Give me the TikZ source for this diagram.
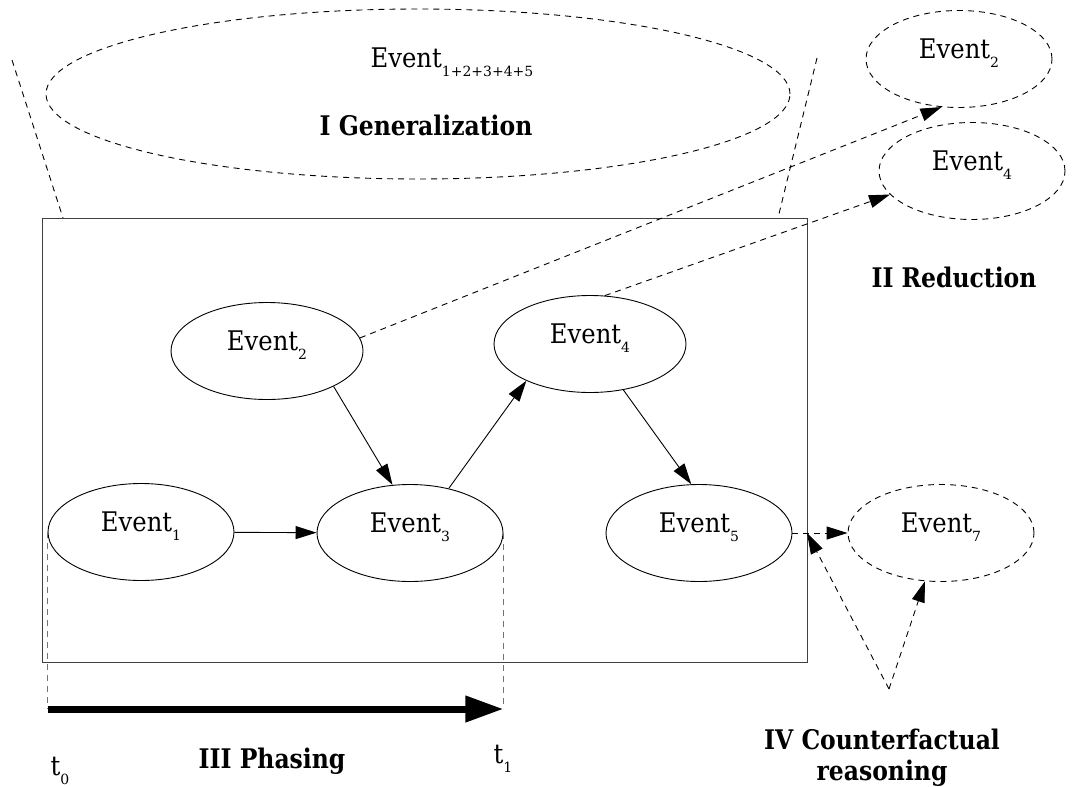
\documentclass[tikz,border=0pt]{standalone}
\usepackage{fontspec}
\setmainfont{DejaVu Serif}[FakeStretch=0.9]
\newfontfamily\idxfont{DejaVu Serif}
\newfontfamily\lblfont{DejaVu Serif}[FakeStretch=0.87]
\usetikzlibrary{shapes.geometric,arrows.meta}
% lowered, smaller index after a word
\newcommand\lowidx[1]{\raisebox{-9pt}{\idxfont\fontsize{14}{14}\selectfont #1}}
\begin{document}
\begin{tikzpicture}[x=1pt,y=-1pt,
  txt/.style={font=\fontsize{27}{31}\selectfont},
  evt/.style={ellipse, draw, line width=0.9pt, minimum width=186pt, minimum height=97pt,
    inner sep=0pt, text height=10pt, text depth=12pt, txt},
  ghost/.style={evt, dash pattern=on 6pt off 5pt},
  lbl/.style={font=\lblfont\fontsize{27}{31}\selectfont\bfseries, align=center},
  hint/.style={line width=0.9pt, dash pattern=on 6pt off 5pt},
  flow/.style={line width=0.9pt, -{Triangle[length=21pt,width=13pt]}},
  hintarrow/.style={hint, -{Triangle[length=21pt,width=13pt]}},
]
\useasboundingbox (0,0) rectangle (1087,787);

% frame around the event graph
\node[draw, line width=1pt, draw=black!75, minimum width=765pt, minimum height=444pt, inner sep=0pt]
  (frame) at (424.5,440) {};

% the generalized event above the frame
\node[ellipse, draw, hint, minimum width=744pt, minimum height=170pt, inner sep=0pt] (gen) at (418,94) {};
\node[txt, anchor=base] (gentext) at (452,67) {Event\lowidx{1+2+3+4+5}};
\node[lbl, anchor=base] (genlbl) at (426,135) {I Generalization};
\coordinate (gl1) at (12,60);
\coordinate (gl2) at (63,218);
\coordinate (gr1) at (817,58);
\coordinate (gr2) at (778,218);
\draw[hint] (gl1) -- (gl2);
\draw[hint] (gr1) -- (gr2);

% events inside the frame
\node[evt, minimum width=192pt] (e2) at (267,351) {Event\lowidx{2}};
\node[evt, minimum width=192pt] (e4) at (590,344) {Event\lowidx{4}};
\node[evt] (e1) at (141,532) {Event\lowidx{1}};
\node[evt] (e3) at (410,533) {Event\lowidx{3}};
\node[evt] (e5) at (699,533) {Event\lowidx{5}};

\draw[flow] (e1) -- (e3);
\draw[flow] (e2.-28) -- (e3.110);
\draw[flow] (e3.49) -- (e4.210);
\draw[flow] (e4.-54) -- (e5.99);

% reduction
\node[ghost] (r2) at (959,59) {Event\lowidx{2}};
\node[ghost] (r4) at (972,171) {Event\lowidx{4}};
\node[lbl, anchor=base] (redlbl) at (954,287) {II Reduction};
\draw[hintarrow] (e2.8) -- (r2.250);
\draw[hintarrow] (e4.73) -- (r4.196);

% counterfactual branch
\node[ghost] (e7) at (941,533) {Event\lowidx{7}};
\coordinate (cf) at (889,689);
\coordinate (hit) at (807,533);
\draw[hintarrow] (e5) -- (e7);
\draw[hintarrow] (cf) -- (hit);
\draw[hintarrow] (cf) -- (e7);
\node[lbl] (cflbl) at (882,757.5) {IV Counterfactual\\reasoning};

% phasing along the time axis
\path (0,709) coordinate (axis);
\coordinate (p0) at (e1.west |- axis);
\coordinate (p1) at (e3.east |- axis);
\draw[hint, draw=black!55] (e1.west) -- (p0);
\draw[hint, draw=black!55] (e3.east) -- (p1);
\draw[line width=7pt, -{Triangle[length=38pt,width=25pt]}] (p0) -- (p1);
\node[txt, anchor=base] (t0) at (60,775) {t\lowidx{0}};
\node[txt, anchor=base] (t1) at (503,763) {t\lowidx{1}};
\node[lbl, anchor=base] (phlbl) at (272,768) {III Phasing};
\end{tikzpicture}
\end{document}
